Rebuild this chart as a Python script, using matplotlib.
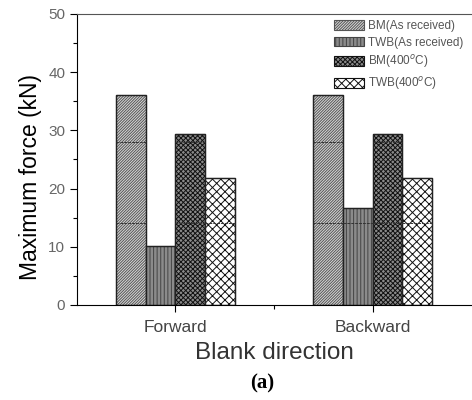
import matplotlib.pyplot as plt
import numpy as np

plt.rcParams['font.family'] = ['Liberation Sans', 'DejaVu Sans']
plt.rcParams['hatch.linewidth'] = 0.7

directions = ['Forward', 'Backward']
series_labels = ['BM(As received)', 'TWB(As received)', 'BM(400$^o$C)', 'TWB(400$^o$C)']
bm_received = [36.0, 36.0]
twb_received = [10.2, 16.7]
bm_400 = [29.3, 29.3]
twb_400 = [21.8, 21.8]
seam_levels = [14.1, 28.0]  # faint horizontal seams visible inside the bars

series = [bm_received, twb_received, bm_400, twb_400]
hatches = ['////////////', '||||||||||||', 'xxxxxxx', 'xxxx']
hatch_colors = ['#555555', '#444444', '#111111', '#111111']
face_colors = ['#d8d8d8', '#f0f0f0', '#8a8a8a', 'white']

fig = plt.figure(figsize=(4.72, 4.0), dpi=100)
ax = fig.add_axes([0.163, 0.2375, 0.835, 0.7275])

x = np.arange(1, len(directions) + 1)
w = 0.15
offsets = [-1.5, -0.5, 0.5, 1.5]
for vals, lab, h, hc, fc, off in zip(series, series_labels, hatches, hatch_colors, face_colors, offsets):
    ax.bar(x + off * w, vals, w, label=lab, facecolor=fc, edgecolor=hc, hatch=h, linewidth=0.8)
    bars = ax.bar(x + off * w, vals, w, facecolor='none', edgecolor='#222222', linewidth=1.0)
    for b in bars:
        for lv in seam_levels:
            if b.get_height() > lv:
                ax.hlines(lv, b.get_x(), b.get_x() + b.get_width(), colors='#333333',
                          linewidth=0.7, linestyles=(0, (3, 1)))

ax.set_xlim(0.5, 2.5)
ax.set_ylim(0, 50)
ax.set_xticks(x)
ax.set_xticklabels(directions, fontsize=12.5, color='#444444')
ax.set_xticks([1.5], minor=True)
ax.set_yticks(np.arange(0, 51, 10))
ax.set_yticks(np.arange(5, 50, 10), minor=True)
ax.tick_params(axis='y', labelsize=11, labelcolor='#666666', direction='out', length=5, width=0.8)
ax.tick_params(axis='x', direction='out', length=5, width=0.8, pad=6)
ax.tick_params(which='minor', direction='out', length=3, width=0.8)
ax.spines['right'].set_visible(False)
ax.spines['top'].set_color('#555555')
ax.spines['top'].set_linestyle((0, (2, 1)))

ax.set_ylabel('Maximum force (kN)', fontsize=16.5)
ax.yaxis.set_label_coords(-0.088, 0.44)
ax.set_xlabel('Blank direction', fontsize=17.5, color='#333333', labelpad=5)

leg = ax.legend(loc='upper right', fontsize=8.5, frameon=False, handlelength=2.6, handleheight=0.9,
                labelspacing=0.4, handletextpad=0.3, borderaxespad=0.1, bbox_to_anchor=(0.995, 1.0))
for t in leg.get_texts():
    t.set_color('#555555')

fig.text(0.555, 0.042, '(a)', fontsize=15, fontweight='bold', family='Liberation Serif', ha='center', va='center')

fig.savefig('out.png', dpi=100)
